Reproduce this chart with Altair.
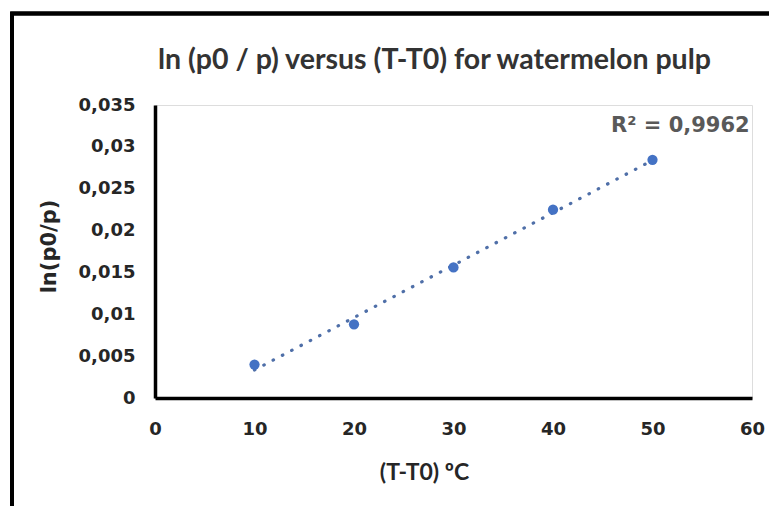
import altair as alt
import pandas as pd

# Data
temp_diff = [10, 20, 30, 40, 50]
ln_ratio = [0.0040, 0.0088, 0.0156, 0.0225, 0.02845]
x_ticks = [0, 10, 20, 30, 40, 50, 60]
y_ticks = [0, 0.005, 0.01, 0.015, 0.02, 0.025, 0.03, 0.035]
r2_text = ["R² = 0,9962"]
r2_pos_x = [52.8]
r2_pos_y = [0.0325]

df = pd.DataFrame({"x": temp_diff, "y": ln_ratio})
lab = pd.DataFrame({"x": r2_pos_x, "y": r2_pos_y, "t": r2_text})

W, H = 597, 293
BLUE = "#4472C4"

xs = alt.Scale(domain=[0, 60], nice=False)
ys = alt.Scale(domain=[0, 0.035], nice=False)

x_axis = alt.Axis(
    values=x_ticks, title="(T-T0) ºC", grid=False, ticks=False, tickSize=0,
    domainColor="#000000", domainWidth=3.5, labelFont="DejaVu Sans",
    labelFontWeight="bold", labelFontSize=18, labelColor="#262626",
    labelPadding=22, labelFlush=False,
    titleFont="Lato", titleFontWeight="bold", titleFontSize=23, titleColor="#262626",
    titleX=269, titleY=74, titleAlign="center", titleBaseline="middle",
)
y_axis = alt.Axis(
    values=y_ticks, title="ln(p0/p)", grid=False, ticks=False, tickSize=0,
    domainColor="#000000", domainWidth=3.5, labelFont="DejaVu Sans",
    labelFontWeight="bold", labelFontSize=18, labelColor="#262626",
    labelPadding=20, labelFlush=False,
    labelExpr="replace(toString(datum.value), '.', ',')",
    titleFont="DejaVu Sans", titleFontWeight="bold", titleFontSize=21, titleColor="#262626",
    titleX=-106, titleY=141, titleAlign="center", titleBaseline="middle", titleAngle=-90,
)

base = alt.Chart(df)

frame = alt.Chart(df).mark_rect(
    fill=None, stroke="#000000", strokeWidth=3.5
).encode(
    x=alt.value(-143), y=alt.value(-91.5), x2=alt.value(800), y2=alt.value(600)
)

trend = base.transform_regression("x", "y", extent=[10, 50]).mark_line(
    color="#4F6FA8", strokeWidth=3.2, strokeDash=[0.5, 10], strokeCap="round"
).encode(
    x=alt.X("x:Q", scale=xs, axis=x_axis),
    y=alt.Y("y:Q", scale=ys, axis=y_axis),
)

points = base.mark_point(filled=True, size=105, color=BLUE, opacity=1).encode(
    x=alt.X("x:Q", scale=xs),
    y=alt.Y("y:Q", scale=ys),
)

r2 = alt.Chart(lab).mark_text(
    font="DejaVu Sans", fontWeight="bold", fontSize=21, color="#595959",
    align="center", baseline="middle",
).encode(
    x=alt.X("x:Q", scale=xs),
    y=alt.Y("y:Q", scale=ys),
    text="t:N",
)

chart = alt.layer(frame, trend, points, r2).properties(
    width=W, height=H,
    title=alt.TitleParams(
        "ln (p0 / p) versus (T-T0) for watermelon pulp",
        font="Lato", fontWeight="bold", fontSize=28.5, color="#333333",
        anchor="middle", dx=-19, frame="group", offset=-86,
        baseline="alphabetic",
    ),
    autosize=alt.AutoSizeParams(type="none"),
    padding={"left": 155, "top": 105, "right": 17, "bottom": 108},
).configure_view(stroke=None).configure(background="#ffffff")

chart.save("out.html", embed_options={"renderer": "svg", "actions": False})
